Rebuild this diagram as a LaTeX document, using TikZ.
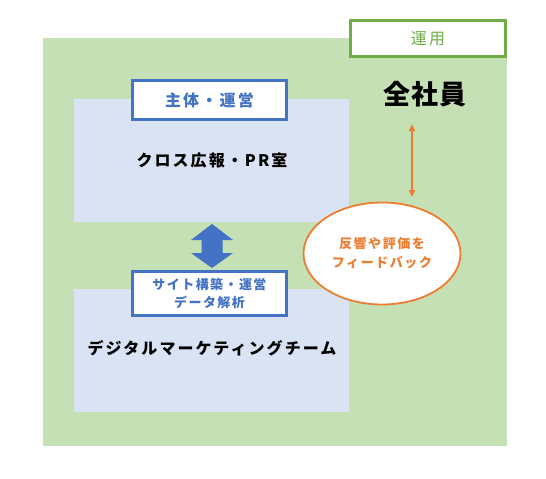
\documentclass[tikz,border=0pt]{standalone}
\usepackage{fontspec}
\setmainfont{Noto Sans CJK JP}
\usetikzlibrary{arrows.meta,shapes.geometric}
\definecolor{gfill}{HTML}{C5E0B4}
\definecolor{gline}{HTML}{70AD47}
\definecolor{bfill}{HTML}{DAE3F3}
\definecolor{bline}{HTML}{4472C4}
\definecolor{oline}{HTML}{ED7D31}
\tikzset{
  zone/.style={draw=none, fill=bfill, minimum width=275pt, minimum height=123pt, inner sep=0pt},
  tagbox/.style={draw=bline, line width=2.6pt, fill=white, minimum width=154pt, inner sep=0pt, text=bline, align=center},
  maintext/.style={font=\fontsize{16}{18}\selectfont\bfseries\addfontfeature{LetterSpace=13}},
}
\begin{document}
\begin{tikzpicture}[x=1pt,y=-1pt]
\useasboundingbox (0,0) rectangle (546,479);
% green area
\node[fill=gfill, minimum width=464pt, minimum height=408pt, inner sep=0pt] (green) at (275,242) {};
% operation label
\node[draw=gline, line width=2.6pt, fill=white, minimum width=155pt, minimum height=36pt, inner sep=0pt,
      text=gline, font=\fontsize{16}{18}\selectfont\addfontfeature{LetterSpace=15}] (unyo) at (428,38.5) {運用};
\node[font=\fontsize{27}{30}\selectfont\bfseries\addfontfeature{LetterSpace=3}] (zen) at (425,94) {全社員};
% blue zones
\node[zone] (pr) at (211.5,160.5) {};
\node[zone] (dm) at (211.5,350) {};
\node[maintext] (prt) at (212,160) {クロス広報・PR室};
\node[maintext] (dmt) at (212,348) {デジタルマーケティングチーム};
% tag boxes
\node[tagbox, minimum height=39pt, font=\fontsize{16}{18}\selectfont\bfseries\addfontfeature{LetterSpace=14}] (tag1) at (209.5,100) {主体・運営};
\node[tagbox, minimum height=44pt, font=\fontsize{13}{18}\selectfont\bfseries\addfontfeature{LetterSpace=11}] (tag2) at (209.5,293.5) {サイト構築・運営\\データ解析};
% double arrow between zones
\fill[bline] (212,224) -- (233,240) -- (222.5,240) -- (222.5,253) -- (233,253) -- (212,268)
  -- (191,253) -- (201.5,253) -- (201.5,240) -- (191,240) -- cycle;
% feedback ellipse
\node[draw=oline, line width=1.8pt, fill=white, ellipse, minimum width=157pt, minimum height=102pt, inner sep=0pt,
      text=oline, align=center, font=\fontsize{13}{19}\selectfont\bfseries\addfontfeature{LetterSpace=12}] (fb) at (382,253.5) {反響や評価を\\フィードバック};
\coordinate (a1) at (412,124);
\coordinate (a2) at (412,197);
\draw[oline, line width=2pt, {Triangle[length=7pt,width=6pt]}-{Triangle[length=7pt,width=6pt]}] (a1) -- (a2);
\end{tikzpicture}
\end{document}
